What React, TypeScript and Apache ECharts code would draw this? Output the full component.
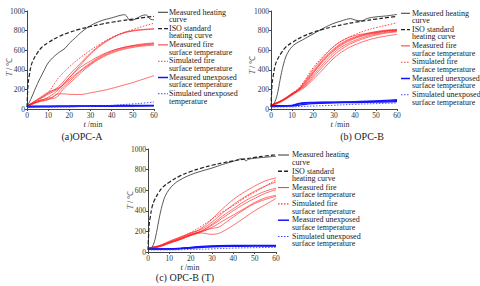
import React, { useEffect, useRef } from "react";
import * as echarts from "echarts";

type P = [number, number][];

// ---------- common ----------
const isoCurve: P = [[0,20],[0.5,250],[1,330],[2,445],[3,502],[5,576],[7,630],[10,678],[15,739],[20,781],[25,815],[30,842],[35,865],[40,885],[45,902],[50,918],[55,932],[60,945]];
const xTicks = [0, 10, 20, 30, 40, 50, 60];
const yTicks = [0, 200, 400, 600, 800, 1000];

// ---------- panel (a) OPC-A ----------
const aHeat: P = [[0,20],[2,110],[5,260],[8,390],[10,470],[13,540],[16,590],[18,620],[20,670],[23,730],[26,790],[30,850],[35,900],[40,930],[44,955],[46,962],[47,950],[48,915],[49,902],[51,915],[54,950],[56,960],[57,950],[58,920],[60,910]];
const aFire: P[] = [
  [[0,30],[5,100],[10,170],[15,215],[18,270],[20,320],[25,440],[30,560],[35,650],[40,720],[45,775],[50,800],[55,812],[60,820]],
  [[0,30],[5,95],[10,160],[15,230],[20,350],[25,460],[30,570],[35,660],[40,725],[45,770],[50,795],[55,808],[60,815]],
  [[0,30],[5,90],[10,150],[15,210],[20,300],[25,390],[30,470],[35,540],[40,590],[45,625],[50,648],[55,665],[60,675]],
  [[0,30],[5,80],[10,110],[13,130],[16,200],[20,280],[25,380],[30,460],[35,530],[40,580],[45,615],[50,638],[55,652],[60,662]],
  [[0,30],[5,70],[10,100],[14,120],[17,200],[20,260],[25,360],[30,450],[35,520],[40,570],[45,605],[50,628],[55,643],[60,650]],
  [[0,30],[5,75],[10,120],[15,200],[20,320],[25,420],[30,490],[35,550],[40,595],[45,625],[50,645],[55,658],[60,668]],
  [[0,30],[5,70],[10,95],[12,120],[14,150],[17,155],[20,150],[25,148],[30,165],[35,185],[40,210],[45,240],[50,270],[55,305],[60,340]],
];
const aSimFire: P = [[0,20],[5,80],[10,170],[13,260],[15,320],[20,430],[25,520],[30,600],[35,670],[40,730],[45,775],[50,810],[55,845],[60,875]];
const aUnexp: P[] = [
  [[0,20],[10,22],[20,25],[30,27],[40,28],[50,30],[60,32]],
  [[0,25],[10,27],[20,28],[30,30],[40,32],[50,33],[60,35]],
  [[0,30],[10,30],[20,32],[30,33],[40,35],[50,36],[60,38]],
];
const aSimUnexp: P = [[0,20],[10,20],[20,22],[30,28],[40,38],[50,52],[55,60],[60,72]];

// ---------- panel (b) OPC-B ----------
const bHeat: P = [[0,20],[1,40],[2,80],[3,150],[4,260],[5,370],[6,460],[7,530],[8,575],[10,635],[12,670],[15,705],[20,765],[25,825],[30,875],[33,895],[36,915],[38,922],[40,908],[43,900],[46,925],[50,940],[55,950],[60,965]];
const bFire: P[] = [
  [[0,40],[5,90],[10,160],[13,200],[16,280],[20,400],[25,530],[30,640],[35,710],[40,750],[45,770],[50,790],[55,805],[60,812]],
  [[0,40],[5,85],[10,155],[13,195],[16,270],[20,380],[25,510],[30,615],[35,690],[40,735],[45,765],[50,785],[55,800],[60,808]],
  [[0,40],[5,85],[10,150],[13,190],[16,250],[20,360],[25,490],[30,595],[35,670],[40,720],[45,752],[50,775],[55,792],[60,800]],
  [[0,35],[5,80],[10,150],[13,200],[16,240],[20,340],[25,465],[30,575],[35,650],[40,700],[45,738],[50,765],[55,783],[60,795]],
  [[0,35],[5,80],[10,145],[13,190],[16,230],[20,320],[25,440],[30,550],[35,630],[40,685],[45,725],[50,755],[55,775],[60,788]],
  [[0,35],[5,75],[10,140],[13,180],[16,220],[20,300],[25,410],[30,520],[35,600],[40,655],[45,695],[50,725],[55,745],[60,762]],
  [[0,40],[5,85],[10,150],[13,195],[16,260],[20,370],[25,500],[30,605],[35,680],[40,728],[45,760],[50,780],[55,796],[60,804]],
];
const bSimFire: P = [[0,20],[5,80],[10,160],[13,210],[16,290],[20,420],[25,540],[30,640],[35,710],[40,760],[45,800],[50,830],[55,855],[60,880]];
const bUnexp: P[] = [
  [[0,30],[5,30],[10,35],[13,50],[16,60],[20,65],[30,68],[40,72],[50,78],[60,85]],
  [[0,35],[5,33],[10,38],[13,55],[16,65],[20,68],[30,70],[40,75],[50,82],[60,95]],
  [[0,25],[5,28],[10,30],[15,45],[20,55],[30,62],[40,66],[50,70],[60,75]],
];
const bSimUnexp: P = [[0,20],[10,22],[20,30],[30,38],[40,48],[50,55],[60,62]];

// ---------- panel (c) OPC-B (T) ----------
const cHeat: P = [[0,20],[1,30],[2,50],[3,100],[4,190],[5,300],[6,400],[7,480],[8,540],[10,610],[12,655],[15,700],[20,750],[25,785],[30,815],[35,850],[40,880],[44,905],[45,900],[46,885],[47,900],[50,910],[55,920],[60,930]];
const cFire: P[] = [
  [[0,40],[5,60],[10,100],[15,140],[20,180],[25,230],[30,320],[35,420],[40,510],[45,580],[50,640],[55,690],[60,720]],
  [[0,40],[5,60],[10,105],[15,145],[20,185],[25,220],[30,290],[35,380],[40,460],[45,530],[50,590],[55,640],[60,680]],
  [[0,40],[5,55],[10,95],[15,130],[20,170],[25,205],[30,270],[35,350],[40,420],[45,490],[50,545],[55,590],[60,620]],
  [[0,35],[5,55],[10,90],[15,125],[20,165],[25,200],[30,260],[35,330],[40,400],[45,465],[50,520],[55,570],[60,605]],
  [[0,35],[5,50],[10,85],[15,120],[20,160],[25,195],[30,240],[35,300],[40,360],[45,420],[50,480],[55,525],[60,550]],
  [[0,35],[5,50],[10,85],[15,120],[20,160],[25,185],[28,175],[30,172],[33,180],[36,210],[40,260],[45,330],[50,400],[55,460],[60,520]],
  [[0,40],[5,55],[10,90],[15,130],[20,170],[25,200],[30,230],[33,240],[36,280],[40,340],[45,410],[50,470],[55,510],[60,540]],
];
const cSimFire: P = [[0,20],[5,50],[10,95],[15,140],[20,190],[25,250],[30,320],[35,390],[40,450],[45,520],[50,580],[55,640],[60,700]];
const cUnexp: P[] = [
  [[0,30],[10,30],[15,35],[20,45],[25,55],[30,60],[40,65],[50,65],[60,65]],
  [[0,30],[10,30],[20,40],[25,50],[30,55],[40,60],[50,62],[60,60]],
  [[0,25],[10,28],[20,38],[30,50],[40,55],[50,58],[60,58]],
];
const cSimUnexp: P = [[0,20],[10,20],[20,25],[30,30],[40,38],[50,42],[60,45]];

// ---------- legend texts ----------
const legendA = ["Measured heating\ncurve", "ISO standard\nheating curve", "Measured fire\nsurface temperature", "Simulated fire\nsurface temperature", "Measured unexposed\nsurface temperature", "Simulated unexposed\ntemperature"];
const legendB = ["Measured heating\ncurve", "ISO standard\nheating curve", "Measured fire\nsurface temperature", "Simulated fire\nsurface temperature", "Measured unexposed\nsurface temperature", "Simulated unexposed\nsurface temperature"];
const captions = ["(a)OPC-A", "(b) OPC-B", "(c) OPC-B (T)"];

const FONT = "'Liberation Serif', 'Times New Roman', serif";

const styles = [
  { color: "#444", width: 0.9, type: "solid" as any },
  { color: "#222", width: 1.2, type: [4, 2] as any },
  { color: "#ff1a1a", width: 0.7, type: "solid" as any },
  { color: "#ff3030", width: 0.9, type: [1.5, 1.5] as any },
  { color: "#1414ff", width: 1.3, type: "solid" as any },
  { color: "#4040ff", width: 0.9, type: [1.5, 1.5] as any },
];

export default function App() {
  const ref = useRef<HTMLDivElement>(null);
  useEffect(() => {
    document.body.style.margin = "0";
    const chart = echarts.init(ref.current!, null, { renderer: "svg" });

    const grids = [
      { left: 27, top: 11, width: 127, height: 98 },
      { left: 271, top: 11, width: 126, height: 98 },
      { left: 148, top: 149, width: 128, height: 103 },
    ];
    const panels = [
      { heat: aHeat, fire: aFire, sim: aSimFire, unexp: aUnexp, simU: aSimUnexp, legend: legendA },
      { heat: bHeat, fire: bFire, sim: bSimFire, unexp: bUnexp, simU: bSimUnexp, legend: legendB },
      { heat: cHeat, fire: cFire, sim: cSimFire, unexp: cUnexp, simU: cSimUnexp, legend: legendB },
    ];

    const series: any[] = [];
    const mk = (data: P, gi: number, si: number, opacity = 1) => ({
      type: "line",
      xAxisIndex: gi,
      yAxisIndex: gi,
      data,
      smooth: 0.4,
      symbol: "none",
      silent: true,
      lineStyle: { color: styles[si].color, width: styles[si].width, type: styles[si].type, opacity },
      z: si === 1 ? 3 : 2,
    });
    panels.forEach((p, gi) => {
      p.fire.forEach((d) => series.push(mk(d, gi, 2, 0.9)));
      series.push(mk(p.sim, gi, 3));
      p.unexp.forEach((d) => series.push(mk(d, gi, 4)));
      series.push(mk(p.simU, gi, 5));
      series.push(mk(p.heat, gi, 0));
      series.push(mk(isoCurve, gi, 1));
    });

    const axisCommon = {
      axisLine: { show: true, lineStyle: { color: "#444", width: 1 } },
      axisTick: { show: true, length: 2, lineStyle: { color: "#444" } },
      splitLine: { show: false },
    };
    const labelStyle = { color: "#333", fontSize: 7.5, fontFamily: FONT, formatter: (v: number) => String(v) };
    const xAxis = grids.map((_, i) => ({
      type: "value",
      gridIndex: i,
      min: xTicks[0],
      max: xTicks[xTicks.length - 1],
      interval: xTicks[1] - xTicks[0],
      ...axisCommon,
      axisLabel: { ...labelStyle, margin: 2 },
    }));
    const yAxis = grids.map((_, i) => ({
      type: "value",
      gridIndex: i,
      min: yTicks[0],
      max: yTicks[yTicks.length - 1],
      interval: yTicks[1] - yTicks[0],
      ...axisCommon,
      axisLabel: { ...labelStyle, margin: 2 },
    }));

    const graphic: any[] = [];
    const legendPos = [
      { x1: 158, x2: 168, tx: 169, y0: 12.3 },
      { x1: 401, x2: 410, tx: 412, y0: 13.3 },
      { x1: 278, x2: 289, tx: 292, y0: 155 },
    ];
    panels.forEach((p, gi) => {
      const lp = legendPos[gi];
      p.legend.forEach((name, k) => {
        const y = lp.y0 + k * 16.3;
        const st = styles[k];
        graphic.push({
          type: "line",
          silent: true,
          shape: { x1: lp.x1, y1: y, x2: lp.x2, y2: y },
          style: { stroke: st.color, lineWidth: k === 4 ? 1.5 : st.width + 0.2, lineDash: Array.isArray(st.type) ? st.type : null },
        });
        graphic.push({
          type: "text",
          silent: true,
          x: lp.tx,
          y: y - 4,
          style: { text: name, fill: "#222", fontSize: 8, fontFamily: FONT, lineHeight: 7.5, verticalAlign: "top" },
        });
      });
    });
    const axisNames = [
      { yx: 9, yy: 67, tx: 93, ty: 124 },
      { yx: 252, yy: 65, tx: 340, ty: 124 },
      { yx: 130, yy: 200, tx: 190, ty: 267 },
    ];
    axisNames.forEach((a) => {
      graphic.push({
        type: "text",
        silent: true,
        x: a.yx,
        y: a.yy,
        rotation: Math.PI / 2,
        style: {
          text: "{i|T} / ℃",
          fill: "#555",
          fontSize: 8,
          fontFamily: FONT,
          align: "center",
          verticalAlign: "middle",
          rich: { i: { fontStyle: "italic", fontSize: 8, fontFamily: FONT, fill: "#555" } },
        },
      });
      graphic.push({
        type: "text",
        silent: true,
        x: a.tx,
        y: a.ty,
        style: {
          text: "{i|t} /min",
          fill: "#333",
          fontSize: 8,
          fontFamily: FONT,
          align: "center",
          verticalAlign: "middle",
          rich: { i: { fontStyle: "italic", fontSize: 8.5, fontFamily: FONT, fill: "#333" } },
        },
      });
    });
    const capPos = [
      { x: 82, y: 136 },
      { x: 362, y: 136 },
      { x: 185, y: 277 },
    ];
    captions.forEach((c, i) => {
      graphic.push({
        type: "text",
        silent: true,
        x: capPos[i].x,
        y: capPos[i].y,
        style: { text: c, fill: "#222", fontSize: 10, fontFamily: FONT, align: "center", verticalAlign: "middle" },
      });
    });

    chart.setOption({
      animation: false,
      backgroundColor: "#fff",
      grid: grids.map((g) => ({ ...g, containLabel: false })),
      xAxis,
      yAxis,
      series,
      graphic,
    });
    return () => chart.dispose();
  }, []);
  return <div ref={ref} style={{ width: 480, height: 286 }} />;
}
